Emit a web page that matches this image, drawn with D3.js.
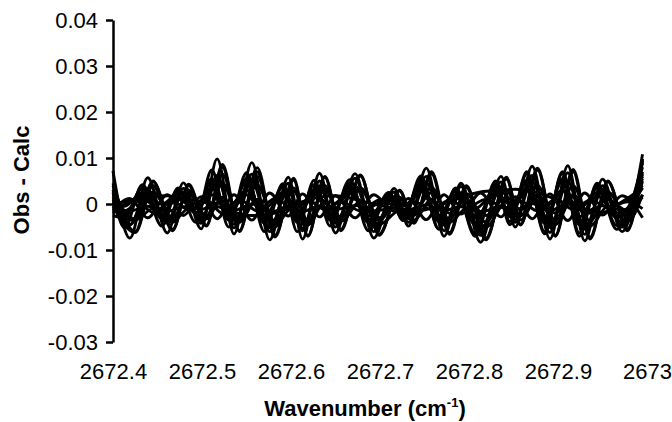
<!DOCTYPE html>
<html>
<head>
<meta charset="utf-8">
<script src="https://cdn.jsdelivr.net/npm/d3@7"></script>
<style>
  html, body { margin: 0; padding: 0; background: #fff; }
  svg { display: block; font-family: "Liberation Sans", Arial, sans-serif; }
</style>
</head>
<body>
<svg id="chart" width="672" height="422"></svg>
<script>
// Wavenumber grids (cm-1) at which residuals were sampled (three slightly different scans)
const wnA = [2672.400, 2672.419, 2672.439, 2672.461, 2672.479, 2672.499, 2672.517, 2672.536,
  2672.556, 2672.576, 2672.597, 2672.613, 2672.632, 2672.650, 2672.672, 2672.693, 2672.716, 2672.732,
  2672.752, 2672.772, 2672.791, 2672.813, 2672.836, 2672.852, 2672.871, 2672.891, 2672.911, 2672.930,
  2672.950, 2672.972, 2672.995];
const wnB = [2672.400, 2672.425, 2672.445, 2672.467, 2672.485, 2672.505, 2672.523, 2672.542,
  2672.562, 2672.582, 2672.603, 2672.619, 2672.638, 2672.656, 2672.678, 2672.699, 2672.722, 2672.738,
  2672.758, 2672.778, 2672.797, 2672.819, 2672.842, 2672.858, 2672.877, 2672.897, 2672.917, 2672.936,
  2672.956, 2672.978, 2672.995];
const wnC = [2672.400, 2672.413, 2672.433, 2672.455, 2672.473, 2672.493, 2672.511, 2672.530,
  2672.550, 2672.570, 2672.591, 2672.607, 2672.626, 2672.644, 2672.666, 2672.687, 2672.710, 2672.726,
  2672.746, 2672.766, 2672.785, 2672.807, 2672.830, 2672.846, 2672.865, 2672.885, 2672.905, 2672.924,
  2672.944, 2672.966, 2672.995];

// Obs - Calc residual series
const s01 = [0.0072,-0.0074,0.0057,-0.0063,0.0046,-0.0054,0.0098,-0.0065,0.0090,-0.0078,0.0058,-0.0076,0.0067,-0.0063,0.0066,-0.0074,0.0034,-0.0048,0.0078,-0.0070,0.0045,-0.0083,0.0060,-0.0050,0.0082,-0.0076,0.0083,-0.0080,0.0054,-0.0060,0.0108];
const s02 = [0.0045,-0.0060,0.0050,-0.0055,0.0040,-0.0046,0.0086,-0.0058,0.0079,-0.0068,0.0052,-0.0069,0.0060,-0.0055,0.0061,-0.0066,0.0028,-0.0042,0.0070,-0.0062,0.0040,-0.0074,0.0054,-0.0044,0.0074,-0.0068,0.0075,-0.0072,0.0048,-0.0054,0.0095];
const s03 = [0.0025,-0.0052,0.0042,-0.0048,0.0035,-0.0040,0.0074,-0.0050,0.0068,-0.0060,0.0044,-0.0060,0.0052,-0.0048,0.0053,-0.0058,0.0023,-0.0036,0.0061,-0.0054,0.0034,-0.0065,0.0046,-0.0038,0.0065,-0.0060,0.0066,-0.0063,0.0041,-0.0047,0.0080];
const s04 = [0.0010,-0.0045,0.0030,-0.0042,0.0024,-0.0036,0.0056,-0.0044,0.0050,-0.0052,0.0030,-0.0053,0.0038,-0.0042,0.0039,-0.0050,0.0015,-0.0032,0.0045,-0.0046,0.0024,-0.0056,0.0034,-0.0034,0.0048,-0.0051,0.0049,-0.0054,0.0030,-0.0042,0.0065];
const s05 = [0.0005,-0.0032,0.0026,-0.0030,0.0022,-0.0026,0.0045,-0.0032,0.0042,-0.0038,0.0028,-0.0037,0.0032,-0.0031,0.0033,-0.0036,0.0015,-0.0025,0.0036,-0.0034,0.0022,-0.0040,0.0030,-0.0026,0.0040,-0.0036,0.0040,-0.0038,0.0026,-0.0030,0.0050];
const s06 = [0.0000,-0.0024,0.0020,-0.0022,0.0016,-0.0020,0.0034,-0.0024,0.0030,-0.0028,0.0020,-0.0027,0.0023,-0.0022,0.0024,-0.0026,0.0010,-0.0019,0.0027,-0.0025,0.0015,-0.0030,0.0021,-0.0020,0.0029,-0.0027,0.0029,-0.0028,0.0018,-0.0023,0.0035];
const s07 = [-0.0010,-0.0015,-0.0005,-0.0016,-0.0006,-0.0012,0.0002,-0.0014,0.0000,-0.0018,-0.0006,-0.0016,-0.0004,-0.0012,-0.0003,-0.0015,-0.0008,-0.0012,-0.0002,-0.0014,-0.0006,-0.0017,-0.0005,-0.0013,0.0001,-0.0015,0.0002,-0.0016,-0.0004,-0.0013,0.0015];
const s08 = [-0.0015,0.0012,-0.0030,0.0020,-0.0025,0.0016,-0.0032,0.0020,-0.0035,0.0024,-0.0026,0.0022,-0.0028,0.0018,-0.0030,0.0020,-0.0016,0.0012,-0.0034,0.0020,-0.0022,0.0024,-0.0028,0.0016,-0.0032,0.0022,-0.0036,0.0024,-0.0024,0.0018,-0.0030];
const s09 = [0.0000,0.0008,0.0015,0.0018,0.0012,0.0005,-0.0005,-0.0018,-0.0025,-0.0022,-0.0010,0.0005,0.0015,0.0018,0.0010,0.0000,-0.0010,-0.0018,-0.0012,0.0000,0.0015,0.0026,0.0030,0.0032,0.0028,0.0015,0.0000,-0.0015,-0.0018,0.0005,0.0035];
const s10 = [0.0030,-0.0035,0.0048,-0.0040,0.0030,-0.0030,0.0065,-0.0040,0.0060,-0.0050,0.0035,-0.0040,0.0040,-0.0030,0.0035,-0.0030,0.0010,-0.0015,0.0025,-0.0020,0.0010,-0.0025,0.0015,-0.0012,0.0020,-0.0020,0.0020,-0.0020,0.0010,-0.0015,0.0020];
const s11 = [0.0005,-0.0015,0.0010,-0.0015,0.0010,-0.0010,0.0020,-0.0020,0.0020,-0.0025,0.0020,-0.0030,0.0030,-0.0030,0.0035,-0.0040,0.0020,-0.0035,0.0055,-0.0055,0.0035,-0.0070,0.0050,-0.0045,0.0070,-0.0065,0.0070,-0.0070,0.0045,-0.0055,0.0090];
const s12 = [-0.0025,-0.0035,-0.0010,-0.0038,-0.0010,-0.0032,0.0015,-0.0038,0.0010,-0.0045,-0.0005,-0.0045,0.0005,-0.0038,0.0005,-0.0045,-0.0015,-0.0035,0.0010,-0.0040,-0.0010,-0.0050,0.0005,-0.0035,0.0015,-0.0045,0.0015,-0.0048,-0.0005,-0.0038,0.0020];
const s13 = [0.0020,-0.0005,0.0025,0.0000,0.0022,0.0000,0.0035,-0.0005,0.0030,-0.0010,0.0025,-0.0008,0.0025,-0.0005,0.0025,-0.0008,0.0015,-0.0005,0.0028,-0.0005,0.0020,-0.0010,0.0025,0.0000,0.0032,-0.0008,0.0030,-0.0010,0.0025,0.0000,0.0040];
const s14 = [-0.0020,0.0008,-0.0018,0.0005,-0.0012,0.0008,-0.0020,0.0010,-0.0015,0.0012,-0.0010,0.0008,-0.0012,0.0006,-0.0015,0.0008,-0.0005,0.0005,-0.0012,0.0008,-0.0008,0.0010,-0.0010,0.0006,-0.0015,0.0010,-0.0012,0.0008,-0.0006,0.0005,-0.0010];
const s15 = [0.0015,-0.0025,0.0035,-0.0032,0.0028,-0.0020,0.0050,-0.0035,0.0055,-0.0042,0.0038,-0.0040,0.0032,-0.0035,0.0045,-0.0040,0.0025,-0.0028,0.0040,-0.0038,0.0028,-0.0045,0.0038,-0.0028,0.0050,-0.0042,0.0055,-0.0045,0.0035,-0.0030,0.0060];
const s16 = [-0.0005,-0.0062,0.0040,-0.0058,0.0043,-0.0048,0.0080,-0.0060,0.0070,-0.0072,0.0056,-0.0070,0.0058,-0.0058,0.0063,-0.0068,0.0030,-0.0040,0.0065,-0.0066,0.0036,-0.0078,0.0058,-0.0046,0.0078,-0.0070,0.0070,-0.0076,0.0050,-0.0058,0.0098];
const s17 = [0.0030,-0.0030,0.0035,-0.0025,0.0030,-0.0020,0.0055,-0.0030,0.0050,-0.0035,0.0038,-0.0034,0.0042,-0.0030,0.0040,-0.0035,0.0022,-0.0022,0.0048,-0.0032,0.0030,-0.0040,0.0040,-0.0025,0.0052,-0.0036,0.0050,-0.0040,0.0036,-0.0030,0.0055];
const s18 = [0.0040,-0.0045,0.0028,-0.0038,0.0034,-0.0042,0.0062,-0.0052,0.0065,-0.0060,0.0045,-0.0058,0.0050,-0.0050,0.0056,-0.0060,0.0026,-0.0040,0.0060,-0.0058,0.0038,-0.0068,0.0048,-0.0040,0.0062,-0.0062,0.0068,-0.0066,0.0040,-0.0050,0.0070];

const seriesValues = [s01, s02, s03, s04, s05, s06, s07, s08, s09, s10, s11, s12, s13, s14, s15, s16, s17, s18];
const seriesGrids  = [wnA, wnB, wnC, wnA, wnB, wnC, wnA, wnA, wnA, wnB, wnC, wnB, wnC, wnB, wnC, wnB, wnC, wnA];

// Axis ticks
const xTicks = [2672.4, 2672.5, 2672.6, 2672.7, 2672.8, 2672.9, 2673.0];
const xTickLabels = ["2672.4", "2672.5", "2672.6", "2672.7", "2672.8", "2672.9", "2673"];
const yTicks = [-0.03, -0.02, -0.01, 0, 0.01, 0.02, 0.03, 0.04];
const yTickLabels = ["-0.03", "-0.02", "-0.01", "0", "0.01", "0.02", "0.03", "0.04"];

const svg = d3.select("#chart");
const x = d3.scaleLinear().domain([2672.4, 2673.0]).range([113, 647]);
const y = d3.scaleLinear().domain([-0.03, 0.04]).range([342, 20]);

const series = seriesValues.map((vals, k) => vals.map((v, i) => [seriesGrids[k][i], v]));

// Lines
const line = d3.line()
  .x(d => x(d[0]))
  .y(d => y(d[1]))
  .curve(d3.curveMonotoneX);

svg.append("g")
  .selectAll("path")
  .data(series)
  .join("path")
  .attr("d", line)
  .attr("fill", "none")
  .attr("stroke", "#000")
  .attr("stroke-width", 2.9)
  .attr("stroke-linejoin", "round");

// Y axis
const yAxis = svg.append("g")
  .attr("transform", "translate(113,0)")
  .call(d3.axisLeft(y).tickValues(yTicks)
    .tickFormat((d, i) => yTickLabels[i])
    .tickSize(7).tickSizeOuter(0).tickPadding(8));
yAxis.select(".domain").attr("stroke", "#000").attr("stroke-width", 2.5);
yAxis.selectAll(".tick line").attr("stroke", "#000").attr("stroke-width", 2.5);
yAxis.selectAll(".tick text").attr("font-size", 22).attr("fill", "#000")
  .attr("font-family", "Liberation Sans, Arial, sans-serif");

// X axis (labels only)
const xAxis = svg.append("g")
  .attr("transform", "translate(0,357)")
  .call(d3.axisBottom(x).tickValues(xTicks)
    .tickFormat((d, i) => xTickLabels[i])
    .tickSize(0).tickPadding(6));
xAxis.select(".domain").remove();
xAxis.selectAll(".tick text").attr("font-size", 22).attr("fill", "#000")
  .attr("font-family", "Liberation Sans, Arial, sans-serif");

// Axis titles
svg.append("text")
  .attr("transform", "translate(29,180) rotate(-90)")
  .attr("text-anchor", "middle")
  .attr("font-size", 22).attr("font-weight", "bold")
  .text("Obs - Calc");

const xt = svg.append("text")
  .attr("x", 365).attr("y", 416)
  .attr("text-anchor", "middle")
  .attr("font-size", 22).attr("font-weight", "bold");
xt.append("tspan").text("Wavenumber (cm");
xt.append("tspan").attr("font-size", 13).attr("dy", -9).text("-1");
xt.append("tspan").attr("dy", 9).text(")");
</script>
</body>
</html>
